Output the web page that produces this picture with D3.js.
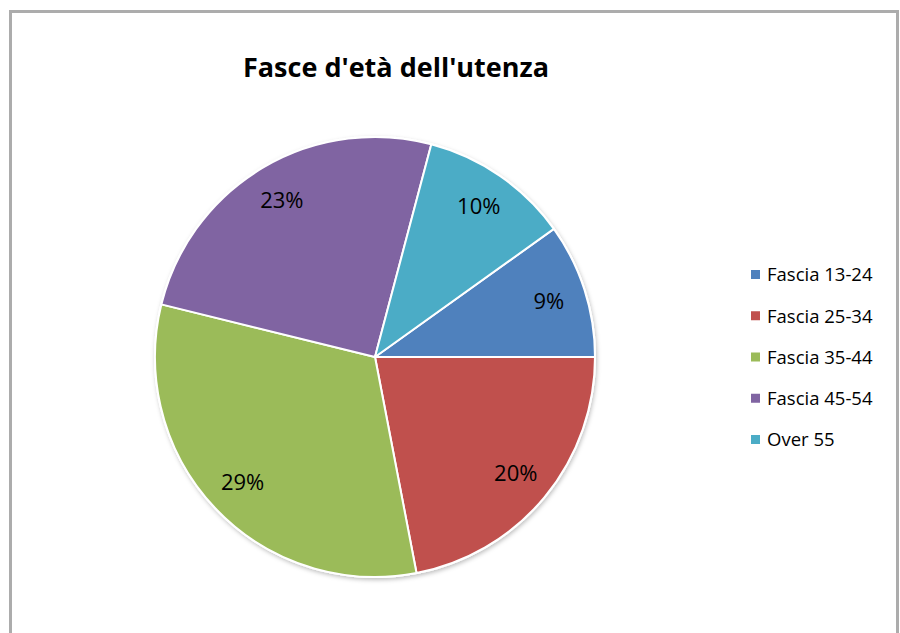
<!DOCTYPE html>
<html><head>
<meta charset="utf-8">
<script src="https://d3js.org/d3.v7.min.js"></script>
<style>
  body { margin: 0; background: #fff; }
  text { font-family: "Open Sans", Lato, sans-serif; }
</style>
</head>
<body>
<svg id="chart" width="900" height="633"></svg>
<script>
// data
const categories = ["Fascia 13-24", "Fascia 25-34", "Fascia 35-44", "Fascia 45-54", "Over 55"];
const values = [9, 20, 29, 23, 10];
const labels = ["9%", "20%", "29%", "23%", "10%"];
const colors = ["#4f81bd", "#c0504d", "#9bbb59", "#8064a2", "#4bacc6"];

const svg = d3.select("#chart");

// outer frame of the chart object
svg.append("path")
  .attr("d", "M10.5,640 V11.5 H897.5 V640")
  .attr("fill", "none")
  .attr("stroke", "#acacac")
  .attr("stroke-width", 3);

svg.append("text")
  .attr("x", 396).attr("y", 77)
  .attr("text-anchor", "middle")
  .attr("font-size", 27).attr("font-weight", "bold")
  .text("Fasce d'età dell'utenza");

const cx = 375, cy = 357, R = 220;
const total = d3.sum(values);
// rotation so that the first slice ends at 3 o'clock
const start = Math.PI / 2 - values[0] / total * 2 * Math.PI;

const pie = d3.pie().sort(null).startAngle(start).endAngle(start + 2 * Math.PI);
const arcs = pie(values);
const arc = d3.arc().innerRadius(0).outerRadius(R);
const labelArc = d3.arc().innerRadius(R * 0.83).outerRadius(R * 0.83);

const defs = svg.append("defs");
const f = defs.append("filter").attr("id", "shadow").attr("x", "-10%").attr("y", "-10%").attr("width", "120%").attr("height", "120%");
f.append("feDropShadow").attr("dx", 1).attr("dy", 2).attr("stdDeviation", 2).attr("flood-color", "#000").attr("flood-opacity", 0.25);

const g = svg.append("g").attr("transform", `translate(${cx},${cy})`);

g.append("circle").attr("r", R + 1).attr("fill", "#fff").attr("filter", "url(#shadow)");

g.selectAll("path.slice").data(arcs)
  .join("path")
  .attr("class", "slice")
  .attr("d", arc)
  .attr("fill", (d, i) => colors[i])
  .attr("stroke", "#fff")
  .attr("stroke-width", 2)
  .attr("stroke-linejoin", "round");

g.selectAll("text.lbl").data(arcs)
  .join("text")
  .attr("class", "lbl")
  .attr("transform", d => `translate(${labelArc.centroid(d)})`)
  .attr("text-anchor", "middle")
  .attr("dy", "0.35em")
  .attr("font-size", 22)
  .attr("fill", "#000")
  .text((d, i) => labels[i]);

// legend
const legY = d3.scalePoint().domain(categories).range([275, 440]);
const leg = svg.append("g").selectAll("g").data(categories)
  .join("g")
  .attr("transform", d => `translate(751,${legY(d)})`);
leg.append("rect")
  .attr("x", 0).attr("y", -5).attr("width", 9).attr("height", 9)
  .attr("fill", (d, i) => colors[i]);
leg.append("text")
  .attr("x", 16).attr("dy", "0.35em")
  .attr("font-size", 18.5)
  .text(d => d);
</script>
</body>
</html>
